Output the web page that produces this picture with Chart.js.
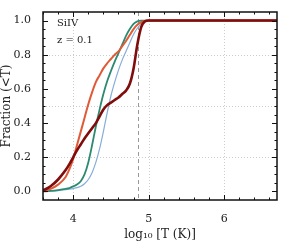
<!DOCTYPE html>
<html>
<head>
<meta charset="utf-8">
<script src="https://cdn.jsdelivr.net/npm/chart.js@4.4.1/dist/chart.umd.min.js"></script>
<style>
  html, body { margin: 0; padding: 0; background: #fff; }
  #wrap { width: 291px; height: 242px; }
</style>
</head>
<body>
<div id="wrap"><canvas id="fracCanvas" width="291" height="242"></canvas></div>
<script>
// log10 T grid shared by every curve
const logT = [3.6, 3.7, 3.8, 3.9, 3.95, 4.0, 4.05, 4.1, 4.15, 4.2, 4.25, 4.3, 4.35, 4.4, 4.45,
  4.5, 4.55, 4.6, 4.65, 4.7, 4.75, 4.8, 4.85, 4.9, 4.95, 5.0, 5.1, 5.5, 6.0, 6.7];

const fracDarkRed = [0.005, 0.03, 0.07, 0.125, 0.16, 0.2, 0.24, 0.275, 0.31, 0.34, 0.37, 0.40, 0.44, 0.48, 0.505,
  0.52, 0.535, 0.55, 0.57, 0.59, 0.63, 0.72, 0.86, 0.96, 0.995, 1.0, 1.0, 1.0, 1.0, 1.0];
const fracOrange = [0.0, 0.015, 0.04, 0.085, 0.13, 0.19, 0.27, 0.35, 0.43, 0.51, 0.58, 0.64, 0.68, 0.72, 0.75,
  0.775, 0.80, 0.82, 0.85, 0.88, 0.915, 0.95, 0.975, 0.99, 0.997, 1.0, 1.0, 1.0, 1.0, 1.0];
const fracGreen = [0.0, 0.003, 0.008, 0.015, 0.02, 0.03, 0.04, 0.06, 0.10, 0.17, 0.27, 0.38, 0.48, 0.57, 0.645,
  0.705, 0.76, 0.81, 0.86, 0.91, 0.95, 0.98, 0.995, 1.0, 1.0, 1.0, 1.0, 1.0, 1.0, 1.0];
const fracBlue = [0.0, 0.002, 0.005, 0.01, 0.013, 0.017, 0.022, 0.03, 0.045, 0.07, 0.11, 0.17, 0.25, 0.35, 0.46,
  0.56, 0.64, 0.71, 0.77, 0.82, 0.87, 0.92, 0.955, 0.98, 0.995, 1.0, 1.0, 1.0, 1.0, 1.0];

const xTicks = [4, 5, 6];
const yTicks = [0.0, 0.2, 0.4, 0.6, 0.8, 1.0];
const xGrid = [4, 5, 6];
const yGrid = [0.2, 0.5, 0.8];
const dashedT = 4.86;

const serif = "'DejaVu Serif', 'Liberation Serif', serif";

function pts(ys) {
  return logT.map((t, i) => ({ x: t, y: ys[i] }));
}

function range(a, b, step) {
  const out = [];
  for (let v = a; v <= b + 1e-9; v += step) out.push(Math.round(v * 1000) / 1000);
  return out;
}

// frame, inward ticks, dotted grid, dashed line, labels
const framePlugin = {
  id: "frame",
  beforeDatasetsDraw(chart) {
    const { ctx, chartArea: a, scales } = chart;
    ctx.save();
    ctx.strokeStyle = "#cccccc";
    ctx.lineWidth = 1;
    ctx.setLineDash([1, 2]);
    xGrid.forEach((v) => {
      const px = Math.round(scales.x.getPixelForValue(v)) + 0.5;
      ctx.beginPath(); ctx.moveTo(px, a.top); ctx.lineTo(px, a.bottom); ctx.stroke();
    });
    yGrid.forEach((v) => {
      const py = Math.round(scales.y.getPixelForValue(v)) + 0.5;
      ctx.beginPath(); ctx.moveTo(a.left, py); ctx.lineTo(a.right, py); ctx.stroke();
    });
    ctx.strokeStyle = "#999";
    ctx.setLineDash([4, 3]);
    const dx = Math.round(scales.x.getPixelForValue(dashedT)) + 0.5;
    ctx.beginPath(); ctx.moveTo(dx, a.top); ctx.lineTo(dx, a.bottom); ctx.stroke();
    ctx.restore();
  },
  afterDraw(chart) {
    const { ctx, chartArea: a, scales } = chart;
    ctx.save();
    ctx.strokeStyle = "#111";
    ctx.lineWidth = 1.5;
    ctx.strokeRect(a.left, a.top, a.right - a.left, a.bottom - a.top);
    ctx.lineWidth = 1;
    range(3.6, 6.6, 0.2).forEach((v) => {
      const major = xTicks.some((m) => Math.abs(m - v) < 1e-6);
      const len = major ? 5 : 2.5;
      const px = Math.round(scales.x.getPixelForValue(v)) + 0.5;
      ctx.beginPath();
      ctx.moveTo(px, a.bottom); ctx.lineTo(px, a.bottom - len);
      ctx.moveTo(px, a.top); ctx.lineTo(px, a.top + len);
      ctx.stroke();
    });
    range(0, 1.0, 0.05).forEach((v) => {
      const major = yTicks.some((m) => Math.abs(m - v) < 1e-6);
      const len = major ? 5 : 2.5;
      const py = Math.round(scales.y.getPixelForValue(v)) + 0.5;
      ctx.beginPath();
      ctx.moveTo(a.left, py); ctx.lineTo(a.left + len, py);
      ctx.moveTo(a.right, py); ctx.lineTo(a.right - len, py);
      ctx.stroke();
    });
    ctx.fillStyle = "#222";
    ctx.font = "10px " + serif;
    ctx.textBaseline = "alphabetic";
    ctx.fillText("SiIV", a.left + 14, a.top + 14);
    ctx.fillText("z = 0.1", a.left + 14, a.top + 31);
    ctx.restore();
  },
};

new Chart(document.getElementById("fracCanvas"), {
  type: "line",
  data: {
    datasets: [
      { data: pts(fracDarkRed), borderColor: "#800c0c", borderWidth: 2.6 },
      { data: pts(fracOrange), borderColor: "#e05a36", borderWidth: 2 },
      { data: pts(fracGreen), borderColor: "#2b8a70", borderWidth: 1.8 },
      { data: pts(fracBlue), borderColor: "#86aed8", borderWidth: 1.2 },
    ],
  },
  options: {
    responsive: false,
    animation: false,
    events: [],
    layout: { padding: { top: 12, right: 14, left: 0, bottom: 0 } },
    elements: {
      point: { radius: 0 },
      line: { cubicInterpolationMode: "monotone", fill: false },
    },
    plugins: { legend: { display: false }, tooltip: { enabled: false } },
    scales: {
      x: {
        type: "linear",
        min: 3.6,
        max: 6.7,
        afterBuildTicks: (s) => { s.ticks = xTicks.map((v) => ({ value: v })); },
        afterFit: (s) => { s.height = 42; },
        grid: { display: false },
        border: { display: false },
        ticks: { color: "#222", font: { family: serif, size: 11 }, padding: 5, maxRotation: 0,
          callback: (v) => String(v) },
        title: { display: true, text: "log₁₀ [T (K)]", color: "#222",
          font: { family: serif, size: 12 }, padding: { top: 1, bottom: 0 } },
      },
      y: {
        min: -0.05,
        max: 1.05,
        afterBuildTicks: (s) => { s.ticks = yTicks.map((v) => ({ value: v })); },
        afterFit: (s) => { s.width = 43; },
        grid: { display: false },
        border: { display: false },
        ticks: { color: "#222", font: { family: serif, size: 11 }, padding: 4,
          callback: (v) => Number(v).toFixed(1) },
        title: { display: true, text: "Fraction (<T)", color: "#222",
          font: { family: serif, size: 12 }, padding: { top: 0, bottom: 1 } },
      },
    },
  },
  plugins: [framePlugin],
});
</script>
</body>
</html>
